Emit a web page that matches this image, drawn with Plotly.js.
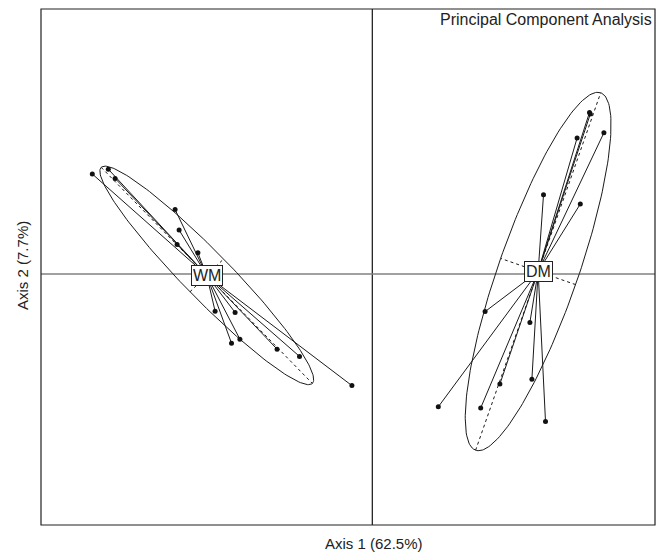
<!DOCTYPE html>
<html>
<head>
<meta charset="utf-8">
<script src="https://cdn.plot.ly/plotly-3.0.1.min.js"></script>
<style>html,body{margin:0;padding:0;background:#fff;}#chart{width:665px;height:553px;}</style>
</head>
<body>
<div id="chart"></div>
<script>
// Group labels
var groups = ["WM", "DM"];
// Axis 1 / Axis 2 scores per group
var wmX = [-7.00, -6.60, -6.43, -4.93, -4.83, -4.88, -4.36, -3.93, -3.43, -3.52, -3.31, -2.38, -1.82, -0.51];
var wmY = [2.50, 2.62, 2.39, 1.61, 1.10, 0.74, 0.53, -0.93, -0.96, -1.73, -1.63, -1.88, -2.06, -2.79];
var dmX = [5.43, 5.45, 5.12, 5.79, 4.28, 5.20, 2.82, 3.94, 3.99, 3.19, 2.71, 1.65, 4.33];
var dmY = [4.04, 4.00, 3.40, 3.53, 1.98, 1.75, -0.94, -1.21, -2.63, -2.75, -3.35, -3.32, -3.69];
var titleText = "Principal Component Analysis";
var xTitle = "Axis 1 (62.5%)";
var yTitle = "Axis 2 (7.7%)";
var cellipse = 1.5;

function mean(a){var s=0;for(var i=0;i<a.length;i++)s+=a[i];return s/a.length;}
function stats(xs, ys){
  var mx=mean(xs), my=mean(ys), n=xs.length, sxx=0, syy=0, sxy=0;
  for(var i=0;i<n;i++){var dx=xs[i]-mx, dy=ys[i]-my; sxx+=dx*dx; syy+=dy*dy; sxy+=dx*dy;}
  sxx/=n; syy/=n; sxy/=n;
  var m=(sxx+syy)/2, d=Math.sqrt(((sxx-syy)/2)*((sxx-syy)/2)+sxy*sxy);
  var l1=m+d, l2=Math.max(m-d,0);
  var th=0.5*Math.atan2(2*sxy, sxx-syy);
  return {mx:mx,my:my,a:cellipse*Math.sqrt(l1),b:cellipse*Math.sqrt(l2),th:th};
}

var lineCol = "#1a1a1a";
var traces = [];
var annotations = [];
[[wmX,wmY,groups[0]],[dmX,dmY,groups[1]]].forEach(function(g){
  var xs=g[0], ys=g[1], s=stats(xs,ys);
  var c=Math.cos(s.th), sn=Math.sin(s.th);
  var ex=[], ey=[];
  for(var k=0;k<=200;k++){
    var t=2*Math.PI*k/200, u=s.a*Math.cos(t), v=s.b*Math.sin(t);
    ex.push(s.mx+u*c-v*sn); ey.push(s.my+u*sn+v*c);
  }
  traces.push({x:ex,y:ey,mode:"lines",line:{color:lineCol,width:1},hoverinfo:"skip",showlegend:false});
  traces.push({x:[s.mx-s.a*c, s.mx+s.a*c, null, s.mx+s.b*sn, s.mx-s.b*sn],
               y:[s.my-s.a*sn, s.my+s.a*sn, null, s.my-s.b*c, s.my+s.b*c],
               mode:"lines",line:{color:lineCol,width:1,dash:"3px,3px"},hoverinfo:"skip",showlegend:false});
  var sx=[], sy=[];
  for(var i=0;i<xs.length;i++){sx.push(s.mx,xs[i],null); sy.push(s.my,ys[i],null);}
  traces.push({x:sx,y:sy,mode:"lines",line:{color:lineCol,width:1},hoverinfo:"skip",showlegend:false});
  traces.push({x:xs,y:ys,mode:"markers",marker:{color:"#111",size:5},showlegend:false,name:g[2]});
  annotations.push({x:s.mx,y:s.my,xref:"x",yref:"y",text:g[2],showarrow:false,
    font:{family:"Liberation Sans, Arial, sans-serif",size:16,color:"#222"},
    bgcolor:"#fff",bordercolor:"#222",borderwidth:1,borderpad:1});
});

annotations.push({xref:"paper",yref:"paper",x:1,y:1,xanchor:"right",yanchor:"top",text:titleText,showarrow:false,
  font:{family:"Liberation Sans, Arial, sans-serif",size:16,color:"#222"},bgcolor:"#fff",borderpad:0,xshift:-2,yshift:-1});
annotations.push({xref:"paper",yref:"paper",x:0.543,y:-0.0349,xanchor:"center",yanchor:"middle",text:xTitle,showarrow:false,
  font:{family:"Liberation Sans, Arial, sans-serif",size:15,color:"#222"}});
annotations.push({xref:"paper",yref:"paper",x:-0.0293,y:0.502,xanchor:"center",yanchor:"middle",textangle:-90,text:yTitle,showarrow:false,
  font:{family:"Liberation Sans, Arial, sans-serif",size:15,color:"#222"}});

var xr=[-8.2825, 7.0675], yr=[-6.275, 6.625];
var layout = {
  width:665,height:553,
  margin:{l:41,r:10,t:9,b:28,pad:0},
  paper_bgcolor:"#fff",plot_bgcolor:"#fff",
  showlegend:false,
  xaxis:{range:xr,showgrid:false,zeroline:false,showticklabels:false,ticks:"",showline:false,fixedrange:true},
  yaxis:{range:yr,showgrid:false,zeroline:false,showticklabels:false,ticks:"",showline:false,fixedrange:true},
  shapes:[
    {type:"line",xref:"x",yref:"paper",x0:0,x1:0,y0:0,y1:1,line:{color:"#111",width:1.2},layer:"below"},
    {type:"line",xref:"paper",yref:"y",x0:0,x1:1,y0:0,y1:0,line:{color:"#808080",width:1.5},layer:"below"},
    {type:"rect",xref:"paper",yref:"paper",x0:0,x1:1,y0:0,y1:1,line:{color:"#222",width:1.2},layer:"below"}
  ],
  annotations:annotations
};
Plotly.newPlot("chart",traces,layout,{staticPlot:true,displayModeBar:false});
</script>
</body>
</html>
